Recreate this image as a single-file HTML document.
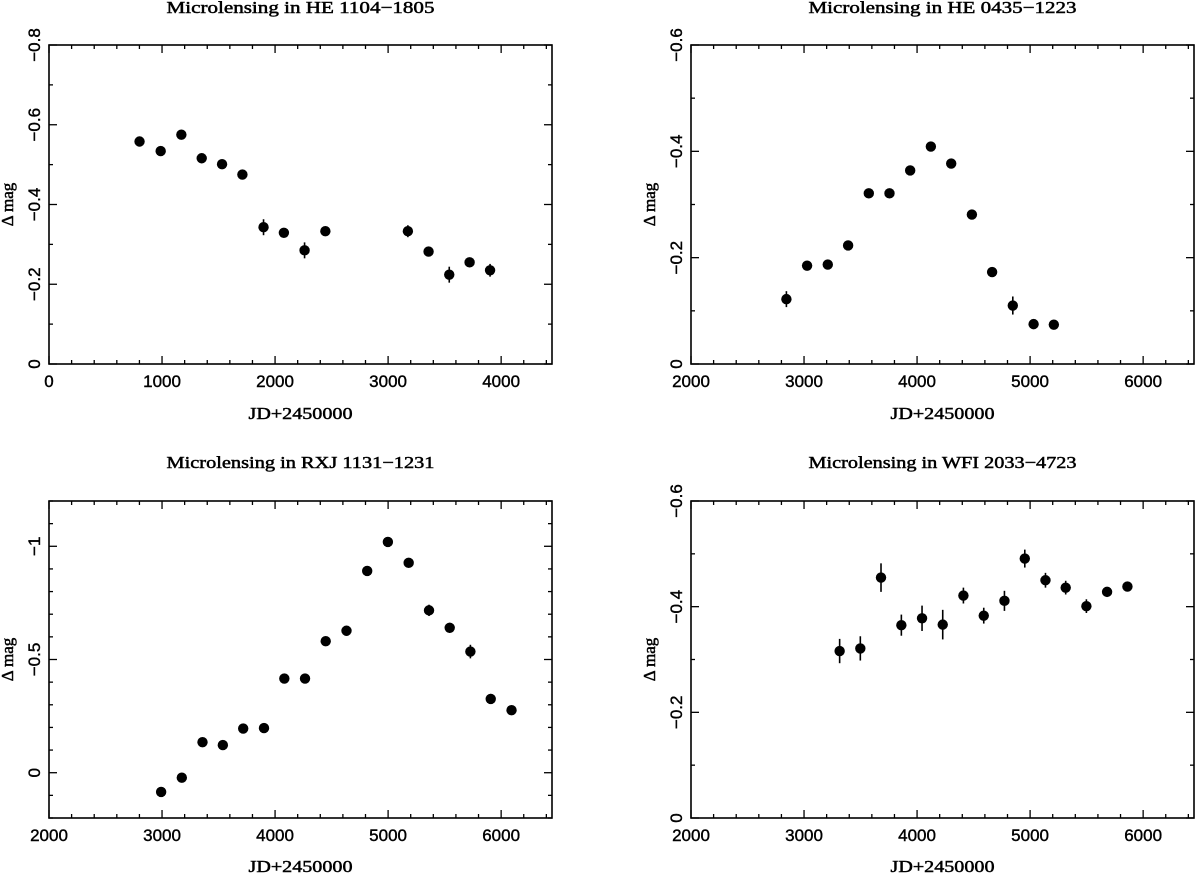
<!DOCTYPE html>
<html><head><meta charset="utf-8"><style>
html,body{margin:0;padding:0;background:#fff;}
svg{display:block;}
.t{font-family:"Liberation Serif",serif;font-size:17px;stroke:#000;stroke-width:0.5;}
.k{font-family:"Liberation Sans",sans-serif;font-size:17px;stroke:#000;stroke-width:0.4;}
</style></head><body>
<svg id="c" width="1200" height="874" xmlns="http://www.w3.org/2000/svg"></svg>
<script>
const p1x=[801,988,1171,1351,1531,1711,1898,2078,2261,2445,3175,3358,3541,3721,3902];
const p1y=[-0.558,-0.534,-0.575,-0.516,-0.501,-0.475,-0.343,-0.329,-0.285,-0.333,-0.333,-0.282,-0.224,-0.255,-0.235];
const p1e=[0.01,0.01,0.01,0.01,0.01,0.01,0.02,0.01,0.02,0.012,0.015,0.012,0.02,0.012,0.016];
const p2x=[2844,3027,3210,3390,3573,3756,3939,4122,4302,4485,4664,4847,5031,5210];
const p2y=[-0.122,-0.185,-0.187,-0.223,-0.321,-0.321,-0.364,-0.409,-0.377,-0.281,-0.173,-0.110,-0.075,-0.074];
const p2e=[0.015,0.008,0.008,0.008,0.008,0.008,0.008,0.008,0.008,0.008,0.008,0.017,0.008,0.008];
const p3x=[2992,3175,3358,3538,3718,3902,4082,4265,4448,4632,4815,4998,5182,5362,5545,5728,5908,6092];
const p3y=[0.085,0.022,-0.135,-0.122,-0.195,-0.197,-0.416,-0.416,-0.581,-0.627,-0.891,-1.019,-0.927,-0.717,-0.640,-0.535,-0.326,-0.276];
const p3e=[0.01,0.01,0.01,0.01,0.01,0.01,0.01,0.02,0.01,0.01,0.01,0.01,0.02,0.025,0.022,0.03,0.022,0.01];
const p4x=[3315,3498,3681,3861,4044,4227,4410,4590,4773,4953,5136,5315,5498,5681,5861];
const p4y=[-0.316,-0.321,-0.455,-0.365,-0.378,-0.366,-0.421,-0.383,-0.411,-0.491,-0.450,-0.436,-0.401,-0.428,-0.438];
const p4e=[0.023,0.023,0.027,0.02,0.024,0.028,0.015,0.015,0.019,0.017,0.014,0.013,0.013,0.008,0.008];
const titles=["Microlensing in HE 1104\u22121805","Microlensing in HE 0435\u22121223","Microlensing in RXJ 1131\u22121231","Microlensing in WFI 2033\u22124723"];
const xTicks1=[0,1000,2000,3000,4000];
const xTicks2=[2000,3000,4000,5000,6000];
const yTicks1=[0,-0.2,-0.4,-0.6,-0.8];
const yTicks2=[0,-0.2,-0.4,-0.6];
const yTicks3=[0,-0.5,-1];

const svg=document.getElementById('c');
const NS='http://www.w3.org/2000/svg';
function mk(tag,at,parent){const e=document.createElementNS(NS,tag);for(const k in at)e.setAttribute(k,at[k]);(parent||svg).appendChild(e);return e;}
function lab(v){if(v===0)return '0';return (v<0?'\u2212':'')+String(Math.abs(v));}

function panel(idx,L,T,R,B,x0,x1,y0,y1,xt,yt,xs,ys,es,tY,xlY){
  const g=mk('g',{});
  
  
  const X=v=>L+(v-x0)/(x1-x0)*(R-L);
  const Y=v=>B-(v-y0)/(y1-y0)*(B-T);
  const ti=mk('text',{x:(L+R)/2,y:tY,'text-anchor':'middle',class:'t',textLength:268,lengthAdjust:'spacingAndGlyphs'},g);
  ti.textContent=titles[idx];
  
  
  const fr=mk('rect',{x:L,y:T,width:R-L,height:B-T,fill:'none',stroke:'#000','stroke-width':1.6},g);
  
  
  for(let v=Math.ceil(x0/200)*200;v<=x1;v+=200){
    const maj=v%1000===0, len=maj?8:4, x=X(v);
    mk('line',{x1:x,y1:B,x2:x,y2:B-len,stroke:'#000','stroke-width':1.3},g);
    mk('line',{x1:x,y1:T,x2:x,y2:T+len,stroke:'#000','stroke-width':1.3},g);
  }
  const ymin=Math.min(y0,y1),ymax=Math.max(y0,y1);
  for(let i=Math.ceil(ymin*10-1e-6);i<=Math.floor(ymax*10+1e-6);i++){
    const v=i/10, maj=yt.some(t=>Math.abs(t-v)<1e-6), len=maj?8:4, y=Y(v);
    mk('line',{x1:L,y1:y,x2:L+len,y2:y,stroke:'#000','stroke-width':1.3},g);
    mk('line',{x1:R,y1:y,x2:R-len,y2:y,stroke:'#000','stroke-width':1.3},g);
  }
  xt.forEach(v=>{const t=mk('text',{x:X(v),y:B+23,'text-anchor':'middle',class:'k'},g);t.textContent=String(v);
    
    });
  yt.forEach(v=>{const y=Y(v);const t=mk('text',{x:0,y:0,'text-anchor':'middle',class:'k',transform:`translate(${L-9},${y}) rotate(-90)`},g);t.textContent=lab(v);
    
    });
  const xl=mk('text',{x:(L+R)/2,y:xlY,'text-anchor':'middle',class:'t',textLength:104,lengthAdjust:'spacingAndGlyphs'},g);xl.textContent='JD+2450000';
  
  
  const yl=mk('text',{x:0,y:0,'text-anchor':'middle',class:'t',transform:`translate(${L-36},${(T+B)/2}) rotate(-90)`},g);yl.textContent='\u0394 mag';
  
  
  xs.forEach((xv,i)=>{
    const cx=X(xv),cy=Y(ys[i]);
    const eb=mk('line',{x1:cx,y1:Y(ys[i]-es[i]),x2:cx,y2:Y(ys[i]+es[i]),stroke:'#000','stroke-width':1.6},g);
    
    
    const c=mk('circle',{cx:cx,cy:cy,r:5.2,fill:'#000'},g);
    
    
  });
}
panel(0,49,45,552,364,0,4450,0,-0.8,xTicks1,yTicks1,p1x,p1y,p1e,13,419);
panel(1,691,45,1194,364,2000,6450,0,-0.6,xTicks2,yTicks2,p2x,p2y,p2e,13,419);
panel(2,49,501,552,818,2000,6450,0.2,-1.2,xTicks2,yTicks3,p3x,p3y,p3e,468,872);
panel(3,691,501,1194,818,2000,6450,0,-0.6,xTicks2,yTicks2,p4x,p4y,p4e,468,872);
</script>
</body></html>
